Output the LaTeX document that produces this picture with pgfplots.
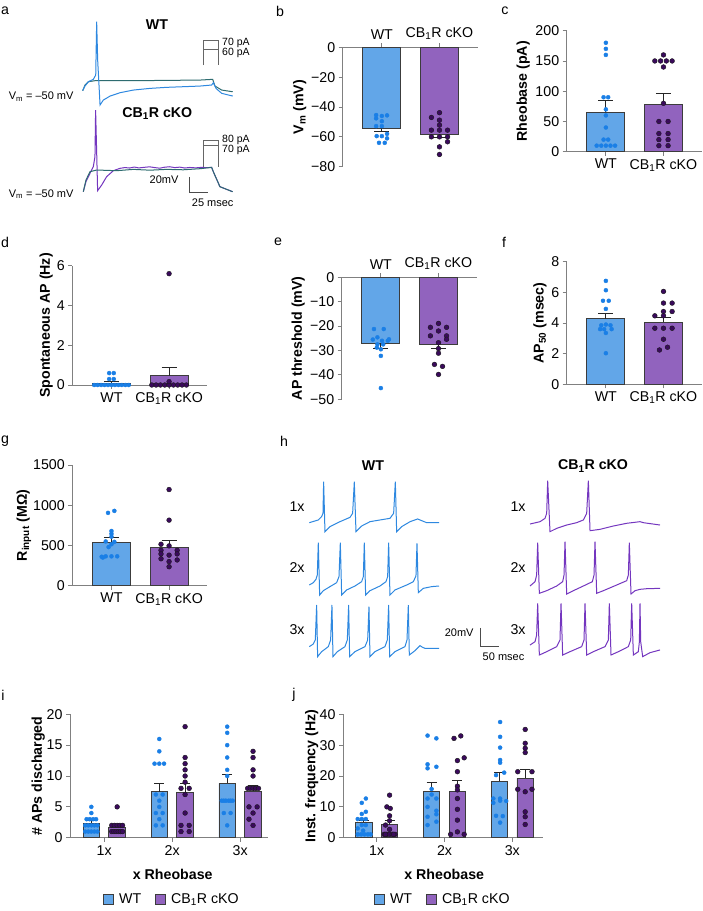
\documentclass[border=0pt]{standalone}
\usepackage{fontspec}
\setmainfont{Liberation Sans}
\usepackage{pgfplots}
\pgfplotsset{compat=1.18}
\definecolor{wtfill}{HTML}{62A6E8}
\definecolor{cbfill}{HTML}{9163BE}
\definecolor{wtdot}{HTML}{1A7FE6}
\definecolor{cbdot}{HTML}{3A0A5C}
\definecolor{axgray}{HTML}{808080}
\definecolor{bardraw}{HTML}{3C3C3C}
\definecolor{trwt}{HTML}{2E88E0}
\definecolor{trteal}{HTML}{2E6C70}
\definecolor{trko}{HTML}{7436BF}
\newcommand\fs{\fontsize{14.2bp}{17bp}\selectfont}
\newcommand\fsm{\fontsize{11bp}{13bp}\selectfont}
\newcommand\fss{\fontsize{10.5bp}{12bp}\selectfont}
\newcommand\cb{CB\textsubscript{1}R cKO}
\pgfplotsset{
  base/.style={scale only axis, clip=false, anchor=south west,
    axis y line*=left, axis x line*=bottom,
    axis line style={axgray,line width=0.9bp},
    every tick/.style={axgray,line width=0.9bp}, major tick length=4bp, tick align=outside,
    tick label style={font=\fs,text=black},
    label style={font=\fs\bfseries},
    /pgf/number format/assume math mode=true, /pgf/number format/1000 sep={},
    scaled ticks=false, minor tick num=0},
  twobar/.style={base, width=134.8bp, xmin=0.32, xmax=2.66, xtick={1,2}, xticklabels={WT,\cb}},
  ylab/.style={ylabel style={at={([xshift=-#1]axis description cs:0,0.5)},anchor=center}},
  bwt/.style={ybar, bar shift=0pt, bar width=38bp, fill=wtfill, draw=bardraw, line width=0.9bp, forget plot},
  bcb/.style={ybar, bar shift=0pt, bar width=38bp, fill=cbfill, draw=bardraw, line width=0.9bp, forget plot},
  swt/.style={ybar, bar shift=0pt, bar width=16.5bp, fill=wtfill, draw=bardraw, line width=0.9bp, forget plot},
  scb/.style={ybar, bar shift=0pt, bar width=16.5bp, fill=cbfill, draw=bardraw, line width=0.9bp, forget plot},
  err/.style={black!85, line width=0.9bp, forget plot},
  dwt/.style={only marks, mark=*, mark size=2bp, mark options={fill=wtdot, draw=wtdot}, forget plot},
  dcb/.style={only marks, mark=*, mark size=2.4bp, mark options={fill=cbdot, draw=black!90}, forget plot},
  trace/.style={hide axis, scale only axis, clip=false, anchor=south west},
  grp/.style={base, width=198bp, height=123.4bp, xtick={1,2,3}, xticklabels={1x,2x,3x},
    legend image code/.code={\draw[#1] (0bp,-5bp) rectangle (10bp,5bp);},
    legend style={draw=none, fill=none, legend columns=-1, font=\fs, inner sep=0pt,
      /tikz/every odd column/.append style={column sep=3bp},
      /tikz/every even column/.append style={column sep=12bp}},
    xlabel={x Rheobase}},
}
\begin{document}
\begin{tikzpicture}
\useasboundingbox (0,0) rectangle (703bp,-911bp);
\fill[white] (0,0) rectangle (703bp,-911bp);
% panel letters
\node[font=\fs] at (5bp,-11bp) {a};
\node[font=\fs] at (280bp,-11bp) {b};
\node[font=\fs] at (505bp,-11bp) {c};
\node[font=\fs] at (5bp,-242bp) {d};
\node[font=\fs] at (278bp,-242bp) {e};
\node[font=\fs] at (504bp,-242bp) {f};
\node[font=\fs] at (5bp,-441bp) {g};
\node[font=\fs] at (284bp,-441bp) {h};
\node[font=\fs] at (3bp,-695bp) {i};
\node[font=\fs] at (294bp,-695bp) {j};

% ---------------- panel a ----------------
\node[font=\fs\bfseries] at (157bp,-25bp) {WT};
\node[font=\fs\bfseries] at (157.3bp,-113.3bp) {\cb};
\node[anchor=east,font=\fsm] at (77bp,-96.7bp) {V\textsubscript{m} = –50 mV};
\node[anchor=east,font=\fsm] at (77bp,-194.3bp) {V\textsubscript{m} = –50 mV};
\draw[black!60, line width=0.9bp] (203.3bp,-65bp) |- (218.3bp,-40bp) -- (218.3bp,-65bp);
\draw[black!60, line width=0.9bp] (203.3bp,-49.5bp) -- (218.3bp,-49.5bp);
\node[anchor=west,font=\fss,inner sep=0pt] at (222bp,-43bp) {70 pA};
\node[anchor=west,font=\fss,inner sep=0pt] at (222bp,-53.3bp) {60 pA};
\draw[black!60, line width=0.9bp] (203.3bp,-166.7bp) |- (218.3bp,-140bp) -- (218.3bp,-166.7bp);
\draw[black!60, line width=0.9bp] (203.3bp,-145.7bp) -- (218.3bp,-145.7bp);
\node[anchor=west,font=\fss,inner sep=0pt] at (222bp,-139.5bp) {80 pA};
\node[anchor=west,font=\fss,inner sep=0pt] at (222bp,-150bp) {70 pA};

\begin{axis}[trace, at={(82.7bp,-106.7bp)}, width=150bp, height=88bp, xmin=0, xmax=208.4, ymin=-70, ymax=40]
\addplot[trteal, line width=1bp] coordinates {(0,-50) (3.2,-42.9) (7.9,-38.75) (17.1,-37.5) (70.4,-37.5) (163,-36.7) (180.6,-35.8) (183.8,-44.2) (193.1,-49.2) (208.4,-51.3)};
\addplot[trwt, line width=1bp] coordinates {(0,-50) (3.2,-44.2) (7.9,-38.75) (14.8,-35.8) (18.1,-30.4) (19.4,36.3) (20.8,-11.7) (24.1,-67.9) (28.7,-61.7) (38,-56.7) (51.9,-52.5) (70.4,-49.2) (93.5,-47.1) (116.7,-45.8) (139.8,-45) (163,-44.2) (179.2,-42.9) (181.5,-40) (185.2,-47.1) (193.1,-53.3) (208.4,-56.7)};
\end{axis}

\begin{axis}[trace, at={(83.3bp,-199.7bp)}, width=149.3bp, height=96bp, xmin=0, xmax=207.4, ymin=-60, ymax=60]
\addplot[trko, line width=1bp] coordinates {(0,-50) (3.7,-37.5) (9.3,-27.1) (13.9,-18.75) (16.2,-6.25) (17.1,52.1) (18.5,2.1) (19.9,-48.75) (25.5,-41.7) (32.4,-31.25) (41.7,-23.75) (50.9,-20.8) (58,-19.8) (64,-20.4) (71,-19.2) (77,-20.3) (84,-19.6) (92,-18.9) (99,-19.8) (106,-20.6) (113,-19.4) (120,-18.8) (127,-19.9) (134,-19.3) (141,-20.4) (148,-19.7) (156,-20.2) (164,-19.6) (172,-19.9) (178.3,-19.6) (180.6,-25) (189.8,-43.75) (207.4,-50)};
\addplot[trteal, line width=1bp] coordinates {(0,-50) (3.7,-35.4) (9.3,-25) (18.5,-22.9) (46.3,-23.75) (69.5,-22.1) (92.6,-23.1) (115.8,-22.1) (138.9,-22.6) (162.1,-21.25) (178.3,-19.6) (180.6,-25) (189.8,-43.75) (207.4,-50)};
\addplot[black!70, line width=1bp] coordinates {(148.2,-31.6) (148.2,-51.6) (173.2,-51.6)};
\node[anchor=east,font=\fsm] at (axis cs:137,-35.4) {20mV};
\node[anchor=west,font=\fsm] at (axis cs:146,-64.1) {25 msec};
\end{axis}

% ---------------- panel b ----------------
\begin{axis}[twobar, axis x line*=top, at={(342.7bp,-166.7bp)}, height=119.4bp, ymin=-80, ymax=0,
  ytick={-80,-60,-40,-20,0}, yticklabels={−80,−60,−40,−20,0}, ylab=43bp, ylabel={V\textsubscript{m} (mV)}]
\addplot[bwt] coordinates {(1,-54.4)};
\addplot[bcb] coordinates {(2,-58.2)};
\addplot[err] coordinates {(1,-54.4) (1,-56.6)};
\addplot[err] coordinates {(0.87,-56.6) (1.13,-56.6)};
\addplot[err] coordinates {(2,-58.2) (2,-60.4)};
\addplot[err] coordinates {(1.87,-60.4) (2.13,-60.4)};
\addplot[dwt] coordinates {(0.9,-45.4) (1.0,-46) (1.09,-45.6) (0.9,-47.6) (1.0,-49.5) (0.9,-52.8) (1.0,-52.8) (1.09,-58) (0.91,-59.5) (1.0,-59.5) (1.09,-61) (0.95,-64) (1.05,-64)};
\addplot[dcb] coordinates {(2,-43.8) (1.86,-47) (2,-48.8) (2,-52.1) (1.86,-55.5) (2,-55.5) (2.14,-55.5) (1.86,-60) (2,-60) (2.14,-60) (2.14,-63.3) (2,-66.7) (2,-71.8)};
\end{axis}

% ---------------- panel c ----------------
\begin{axis}[twobar, at={(566.7bp,-151.7bp)}, height=121bp, ymin=0, ymax=200,
  ytick={0,50,100,150,200}, ylab=43.4bp, ylabel={Rheobase (pA)}]
\addplot[bwt] coordinates {(1,65)};
\addplot[bcb] coordinates {(2,78.8)};
\addplot[err] coordinates {(1,65) (1,84.3)};
\addplot[err] coordinates {(0.87,84.3) (1.13,84.3)};
\addplot[err] coordinates {(2,78.8) (2,96.4)};
\addplot[err] coordinates {(1.87,96.4) (2.13,96.4)};
\addplot[dwt] coordinates {(0.84,10) (0.92,10) (1,10) (1.08,10) (1.16,10) (0.96,20) (1.04,20) (1,40) (1,60) (1,70) (0.96,90) (1.04,90) (1,160) (1,170) (1,180)};
\addplot[dcb] coordinates {(1.92,10) (2.08,10) (1.92,20) (2.08,20) (1.92,30) (2.08,30) (1.92,50) (2.08,50) (2,80) (2,140) (1.85,150) (1.95,150) (2.05,150) (2.15,150) (2,160)};
\end{axis}

% ---------------- panel d ----------------
\begin{axis}[twobar, at={(72.3bp,-385bp)}, height=119.3bp, ymin=0, ymax=6,
  ytick={0,2,4,6}, ylab=26bp, ylabel={Spontaneous AP (Hz)}]
\addplot[bwt] coordinates {(1,0.1)};
\addplot[bcb] coordinates {(2,0.47)};
\addplot[err] coordinates {(1,0.1) (1,0.18)};
\addplot[err] coordinates {(0.87,0.18) (1.13,0.18)};
\addplot[err] coordinates {(2,0.47) (2,0.88)};
\addplot[err] coordinates {(1.87,0.88) (2.13,0.88)};
\addplot[dwt] coordinates {(0.7,0) (0.76,0) (0.82,0) (0.88,0) (0.94,0) (1,0) (1.06,0) (1.12,0) (1.18,0) (1.24,0) (1.3,0) (0.96,0.3) (1.04,0.3) (0.96,0.6) (1.04,0.6)};
\addplot[dcb] coordinates {(1.7,0) (1.775,0) (1.85,0) (1.925,0) (2,0) (2.075,0) (2.15,0) (2.225,0) (2.3,0) (2,0.17) (2,5.6)};
\end{axis}

% ---------------- panel e ----------------
\begin{axis}[twobar, axis x line*=top, at={(341.7bp,-399.3bp)}, height=122bp, ymin=-50, ymax=0,
  ytick={-50,-40,-30,-20,-10,0}, yticklabels={−50,−40,−30,−20,−10,0}, ylab=43.4bp, ylabel={AP threshold (mV)}]
\addplot[bwt] coordinates {(1,-27)};
\addplot[bcb] coordinates {(2,-27.5)};
\addplot[err] coordinates {(1,-27) (1,-29.1)};
\addplot[err] coordinates {(0.87,-29.1) (1.13,-29.1)};
\addplot[err] coordinates {(2,-27.5) (2,-29.2)};
\addplot[err] coordinates {(1.87,-29.2) (2.13,-29.2)};
\addplot[dwt] coordinates {(0.88,-21.2) (1.05,-21.2) (0.86,-25.5) (0.94,-24.6) (1.14,-25.4) (1.02,-26) (1.12,-26) (0.94,-27.5) (1.04,-27.5) (1,-29.5) (0.93,-28.8) (1,-32.2) (1,-45.4)};
\addplot[dcb] coordinates {(2,-18.9) (1.86,-20.5) (2.14,-20.5) (2,-22) (1.86,-24) (2.14,-24) (2.14,-25.4) (2,-26.8) (2,-29.2) (2,-31.1) (1.93,-35.7) (2.07,-36.5) (2,-39.8)};
\end{axis}

% ---------------- panel f ----------------
\begin{axis}[twobar, at={(566.7bp,-384.3bp)}, height=122.6bp, ymin=0, ymax=8,
  ytick={0,2,4,6,8}, ylab=26.7bp, ylabel={AP\textsubscript{50} (msec)}]
\addplot[bwt] coordinates {(1,4.27)};
\addplot[bcb] coordinates {(2,4.04)};
\addplot[err] coordinates {(1,4.27) (1,4.64)};
\addplot[err] coordinates {(0.87,4.64) (1.13,4.64)};
\addplot[err] coordinates {(2,4.04) (2,4.35)};
\addplot[err] coordinates {(1.87,4.35) (2.13,4.35)};
\addplot[dwt] coordinates {(1,6.75) (1,6.14) (0.95,5.45) (1.05,5.45) (1,4.92) (0.92,3.85) (1.0,3.9) (1.08,3.85) (0.9,3.6) (0.97,3.6) (1.1,3.6) (1,3.35) (1,2.03)};
\addplot[dcb] coordinates {(2,6.06) (2,5.3) (2.15,5.3) (2,4.75) (2.15,4.75) (1.85,4.47) (2,4.47) (1.85,3.66) (2,3.66) (2.15,3.66) (2,2.94) (2.07,2.42) (1.93,2.24)};
\end{axis}

% ---------------- panel g ----------------
\begin{axis}[twobar, at={(72.3bp,-585.7bp)}, height=120.7bp, ymin=0, ymax=1500,
  ytick={0,500,1000,1500}, ylab=48.3bp, ylabel={R\textsubscript{input} (MΩ)}]
\addplot[bwt] coordinates {(1,538)};
\addplot[bcb] coordinates {(2,476)};
\addplot[err] coordinates {(1,538) (1,600)};
\addplot[err] coordinates {(0.87,600) (1.13,600)};
\addplot[err] coordinates {(2,476) (2,559)};
\addplot[err] coordinates {(1.87,559) (2.13,559)};
\addplot[dwt] coordinates {(0.94,905) (1.05,930) (1,680) (1,645) (1,610) (0.9,550) (1.05,545) (1.0,515) (0.95,480) (0.83,360) (0.9,365) (1,365) (1.1,365) (0.85,350)};
\addplot[dcb] coordinates {(2,1195) (2,815) (1.86,515) (2.0,495) (1.86,440) (2.14,440) (1.86,395) (2.14,395) (2,380) (1.86,335) (2.14,320) (2,300) (2,236)};
\end{axis}

% ---------------- panel h ----------------
\node[font=\fs\bfseries] at (373bp,-466bp) {WT};
\node[font=\fs\bfseries] at (593bp,-466bp) {\cb};
\node[font=\fs] at (297bp,-507bp) {1x};
\node[font=\fs] at (297bp,-568bp) {2x};
\node[font=\fs] at (297bp,-630bp) {3x};
\node[font=\fs] at (518bp,-507bp) {1x};
\node[font=\fs] at (518bp,-568bp) {2x};
\node[font=\fs] at (518bp,-630bp) {3x};
\begin{axis}[trace, at={(309.3bp,-657.8bp)}, width=130bp, height=180.18bp, xmin=0, xmax=342, ymin=-150, ymax=50]
\addplot[trwt, line width=1bp] coordinates {(0,0) (23.7,3) (32.4,6.7) (36,10.4) (37.7,45.5) (41.2,-10) (54.4,-4.4) (80.7,1.1) (107,5.9) (114,10.4) (118.4,45.5) (122.8,-10) (137.7,-3.7) (159.6,1.1) (185.9,3) (212.2,4.8) (221.9,10.4) (226.3,45.5) (229.8,-10) (243,-4.4) (265,1.1) (285,4.1) (291.2,3) (308.7,0) (341.2,0)};
\addplot[trwt, line width=1bp] coordinates {(0,-69.2) (10.5,-66.6) (17.5,-62.9) (21,-58.1) (23.7,-22.2) (27.2,-80.3) (36.8,-75.5) (54.4,-71) (71.9,-66.6) (78.1,-59.9) (81.6,-22.2) (85.1,-80.3) (98.2,-74.7) (120.1,-70.3) (137.7,-65.5) (142.1,-59.9) (144.7,-22.2) (148.2,-80.3) (159.6,-75.5) (185.9,-70.3) (201.7,-65.5) (206.1,-59.9) (208.7,-22.2) (212.2,-80.3) (225.4,-74.7) (256.1,-69.2) (273.6,-65.5) (280.6,-59.2) (283.3,-22.9) (286.8,-77.7) (299.9,-72.9) (321.9,-71) (341.2,-70.3)};
\addplot[trwt, line width=1bp] coordinates {(0,-137.6) (10.5,-134.7) (15.8,-130.2) (19.3,-91.4) (21.9,-148.7) (32.4,-143.2) (50,-137.6) (56.1,-130.2) (59.6,-91.4) (62.3,-148.7) (73.7,-143.2) (93.8,-137.6) (100,-130.2) (103.5,-91.4) (106.1,-148.7) (120.1,-143.2) (146.5,-137.6) (153.5,-130.2) (157,-93.2) (159.6,-148.7) (172.8,-143.2) (199.1,-137.6) (205.2,-130.2) (208.7,-91.4) (211.4,-148.7) (225.4,-143.2) (251.7,-137.6) (257,-130.2) (260.5,-91.4) (263.1,-146.9) (278,-142.1) (291.2,-136.5) (298.2,-138.4) (304.3,-139.5) (341.2,-139.5)};
\addplot[black!70, line width=1bp] coordinates {(449.2,-116.9) (449.2,-136.9) (499.2,-136.9)};
\node[anchor=east,font=\fsm] at (axis cs:441.3,-122.4) {20mV};
\node[anchor=west,font=\fsm] at (axis cs:447,-149.1) {50 msec};
\end{axis}
\begin{axis}[trace, at={(530bp,-657.8bp)}, width=130bp, height=180.18bp, xmin=0, xmax=342, ymin=-150, ymax=50]
\addplot[trko, line width=1bp] coordinates {(0,-1.5) (26.3,1.1) (39.5,4.8) (43.9,10.4) (46.5,46.6) (52.6,-10) (70.2,-6.3) (96.5,-2.6) (122.8,0) (140.3,3) (149.1,10.4) (153.5,46.6) (157.9,-8.9) (184.2,-7.4) (219.3,-3.7) (254.3,-0.7) (289.4,1.1) (298.2,0) (342,-2.6)};
\addplot[trko, line width=1bp] coordinates {(0,-70.3) (13.2,-65.5) (17.5,-58.1) (20.2,-22.2) (24.6,-78.4) (43.9,-75.5) (70.2,-70.3) (85.9,-65.5) (89.5,-58.1) (92.1,-21.1) (96.5,-79.2) (114,-75.5) (140.3,-70.3) (164,-65.5) (168.4,-58.1) (171,-21.1) (175.4,-78.4) (192.9,-75.5) (228,-69.2) (254.3,-64.4) (258.7,-58.1) (261.3,-22.2) (265.7,-79.2) (276.3,-75.5) (289.4,-74) (307,-73.3) (342,-72.9)};
\addplot[trko, line width=1bp] coordinates {(0,-135.8) (13.2,-132.1) (17.5,-124.7) (20.2,-89.5) (24.6,-146.9) (43.9,-143.2) (70.2,-137.6) (78.9,-130.2) (81.6,-89.5) (85.9,-146.9) (105.2,-143.2) (135.9,-137.6) (142.1,-130.2) (144.7,-89.5) (149.1,-146.9) (166.6,-143.2) (197.3,-137.6) (206.1,-130.2) (208.7,-89.5) (213.1,-146.9) (232.4,-143.2) (258.7,-137.6) (264.9,-130.2) (267.5,-89.5) (271.9,-146.9) (285,-143.2) (287.7,-132.1) (289.4,-89.5) (291.2,-132.1) (296.4,-148.7) (315.7,-144.3) (342,-141.3)};
\end{axis}

% ---------------- panel i ----------------
\begin{axis}[grp, at={(70bp,-837.7bp)}, xmin=0.496, xmax=3.41, ymin=0, ymax=20, ytick={0,5,10,15,20},
  ylab=31.7bp, ylabel={\# APs discharged},
  xlabel style={at={([yshift=-36.3bp]axis description cs:0.519,0)},anchor=center},
  legend style={at={([yshift=-61.3bp]axis description cs:0.515,0)}, anchor=center}]
\addlegendimage{draw=bardraw, fill=wtfill, line width=0.9bp}
\addlegendentry{WT}
\addlegendimage{draw=bardraw, fill=cbfill, line width=0.9bp}
\addlegendentry{\cb}
\addplot[swt] coordinates {(0.81,2.38) (1.81,7.46) (2.81,8.8)};
\addplot[scb] coordinates {(1.19,1.67) (2.19,7.4) (3.19,7.56)};
\addplot[err] coordinates {(0.81,2.38) (0.81,2.86)};
\addplot[err] coordinates {(0.735,2.86) (0.885,2.86)};
\addplot[err] coordinates {(1.19,1.67) (1.19,2.05)};
\addplot[err] coordinates {(1.115,2.05) (1.265,2.05)};
\addplot[err] coordinates {(1.81,7.46) (1.81,8.8)};
\addplot[err] coordinates {(1.735,8.8) (1.885,8.8)};
\addplot[err] coordinates {(2.19,7.4) (2.19,8.8)};
\addplot[err] coordinates {(2.115,8.8) (2.265,8.8)};
\addplot[err] coordinates {(2.81,8.8) (2.81,10.27)};
\addplot[err] coordinates {(2.735,10.27) (2.885,10.27)};
\addplot[err] coordinates {(3.19,7.56) (3.19,8.54)};
\addplot[err] coordinates {(3.115,8.54) (3.265,8.54)};
\addplot[dwt] coordinates {(0.81,5) (0.81,4) (0.74,3) (0.785,3) (0.835,3) (0.88,3) (0.72,2) (0.765,2) (0.81,2) (0.855,2) (0.9,2) (0.72,1) (0.765,1) (0.81,1) (0.855,1) (0.9,1)
 (1.81,16) (1.81,14) (1.74,12) (1.81,12) (1.88,12) (1.76,7) (1.86,7) (1.81,6) (1.81,5) (1.76,4) (1.86,4) (1.81,3) (1.76,2) (1.86,2)
 (2.81,18) (2.81,17) (2.81,15) (2.81,13) (2.81,11) (2.81,10) (2.73,6) (2.76,6) (2.79,6) (2.83,6) (2.86,6) (2.89,6) (2.76,4) (2.86,4) (2.81,2)};
\addplot[dcb] coordinates {(1.19,5) (1.11,2) (1.15,2) (1.19,2) (1.23,2) (1.27,2) (1.11,1) (1.142,1) (1.174,1) (1.206,1) (1.238,1) (1.27,1)
 (2.19,18) (2.19,13) (2.19,12) (2.19,11) (2.19,10) (2.19,9) (2.13,8) (2.25,8) (2.19,7) (2.19,4) (2.13,2) (2.25,2) (2.13,1) (2.25,1)
 (3.19,14) (3.19,13) (3.19,11) (3.19,10) (3.11,8) (3.15,8) (3.19,8) (3.23,8) (3.27,8) (3.13,5) (3.25,5) (3.19,4) (3.13,3) (3.19,2)};
\end{axis}

% ---------------- panel j ----------------
\begin{axis}[grp, at={(343bp,-837.7bp)}, width=199.7bp, xmin=0.503, xmax=3.448, ymin=0, ymax=40, ytick={0,10,20,30,40},
  ylab=31.3bp, ylabel={Inst. frequency (Hz)},
  xlabel style={at={([yshift=-36.3bp]axis description cs:0.507,0)},anchor=center},
  legend style={at={([yshift=-61.3bp]axis description cs:0.5,0)}, anchor=center}]
\addlegendimage{draw=bardraw, fill=wtfill, line width=0.9bp}
\addlegendentry{WT}
\addlegendimage{draw=bardraw, fill=cbfill, line width=0.9bp}
\addlegendentry{\cb}
\addplot[swt] coordinates {(0.81,4.97) (1.81,15.1) (2.81,18.3)};
\addplot[scb] coordinates {(1.19,4.2) (2.19,15.1) (3.19,19.2)};
\addplot[err] coordinates {(0.81,4.97) (0.81,5.7)};
\addplot[err] coordinates {(0.735,5.7) (0.885,5.7)};
\addplot[err] coordinates {(1.19,4.2) (1.19,5.5)};
\addplot[err] coordinates {(1.115,5.5) (1.265,5.5)};
\addplot[err] coordinates {(1.81,15.1) (1.81,17.8)};
\addplot[err] coordinates {(1.735,17.8) (1.885,17.8)};
\addplot[err] coordinates {(2.19,15.1) (2.19,18.5)};
\addplot[err] coordinates {(2.115,18.5) (2.265,18.5)};
\addplot[err] coordinates {(2.81,18.3) (2.81,21.1)};
\addplot[err] coordinates {(2.735,21.1) (2.885,21.1)};
\addplot[err] coordinates {(3.19,19.2) (3.19,22.1)};
\addplot[err] coordinates {(3.115,22.1) (3.265,22.1)};
\addplot[dwt] coordinates {(0.84,12.7) (0.78,11.3) (0.84,8.4) (0.78,7.7) (0.72,6.05) (0.78,6.05) (0.84,6.05) (0.78,4.1) (0.84,4.1) (0.72,3.0) (0.80,2.3) (0.72,1.1) (0.77,1.1) (0.82,1.1) (0.87,1.1) (0.91,1.1)
 (1.75,33.1) (1.88,32.2) (1.75,23.8) (1.75,22.5) (1.88,23) (1.81,15.8) (1.81,14) (1.75,12.7) (1.88,12.7) (1.75,10) (1.88,8.75) (1.88,7.6) (1.75,6.8) (1.88,5.2) (1.75,4.1)
 (2.82,37.5) (2.82,32.7) (2.82,29.2) (2.82,25.2) (2.82,24.3) (2.88,21.1) (2.76,20.3) (2.72,12.7) (2.82,12.7) (2.82,12) (2.72,11.3) (2.91,11.9) (2.76,7.1) (2.86,7.0) (2.82,4.9)};
\addplot[dcb] coordinates {(1.19,13.8) (1.15,10.0) (1.2,9.5) (1.19,7.1) (1.19,5.5) (1.13,4.1) (1.19,2.7) (1.11,1.1) (1.15,1.1) (1.19,1.1) (1.23,1.1) (1.27,1.1) (1.13,1.1) (1.25,1.1)
 (2.14,32.2) (2.24,33) (2.19,25) (2.29,25.9) (2.19,21.4) (2.19,16.7) (2.19,15.5) (2.19,12.7) (2.19,9.2) (2.19,5.7) (2.19,1.9) (2.09,1.1) (2.29,1.1)
 (3.19,35.1) (3.19,30.6) (3.19,29) (3.19,27.6) (3.08,21.4) (3.29,21.4) (3.08,15.7) (3.29,15.7) (3.19,14.9) (3.19,8.4) (3.19,6.8) (3.19,4.3)};
\end{axis}
\end{tikzpicture}
\end{document}
